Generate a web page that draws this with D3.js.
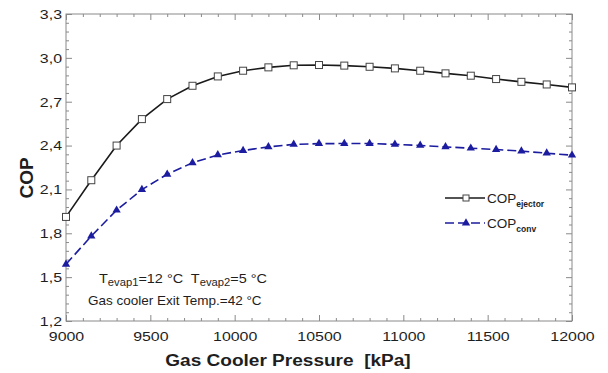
<!DOCTYPE html>
<html>
<head>
<meta charset="utf-8">
<script src="https://cdn.jsdelivr.net/npm/d3@7"></script>
<style>
  body { margin: 0; background: #fff; }
  svg { display: block; }
  text { font-family: "Liberation Sans", Arial, sans-serif; fill: #1e1e1e; }
</style>
</head>
<body>
<svg id="chart" width="608" height="373"></svg>
<script>
// Gas cooler pressure [kPa] and the two COP curves
const pressure = [9000, 9150, 9300, 9450, 9600, 9750, 9900, 10050, 10200, 10350, 10500,
                  10650, 10800, 10950, 11100, 11250, 11400, 11550, 11700, 11850, 12000];
const copEjector = [1.912, 2.163, 2.400, 2.581, 2.718, 2.809, 2.873, 2.912, 2.935, 2.949, 2.951,
                    2.947, 2.939, 2.928, 2.912, 2.894, 2.878, 2.855, 2.836, 2.818, 2.798];
const copConv = [1.588, 1.781, 1.958, 2.099, 2.204, 2.282, 2.336, 2.366, 2.391, 2.408, 2.413,
                 2.414, 2.414, 2.408, 2.401, 2.391, 2.382, 2.373, 2.362, 2.348, 2.334];

const xTicks = [9000, 9500, 10000, 10500, 11000, 11500, 12000];
const yTicks = [1.2, 1.5, 1.8, 2.1, 2.4, 2.7, 3.0, 3.3];
const seriesLabels = ["ejector", "conv"];

const svg = d3.select("#chart");
const plot = { left: 66, right: 572, top: 14, bottom: 321 };

const x = d3.scaleLinear().domain([9000, 12000]).range([plot.left, plot.right]);
const y = d3.scaleLinear().domain([1.2, 3.3]).range([plot.bottom, plot.top]);

const stretch = 1.18;      // tick labels and x title are drawn slightly wide
const frameColor = "#8a8a8a";

// minor tick positions: every 100 kPa and every 0.06 COP
const xMinor = d3.range(9000, 12001, 100).filter(v => v % 500 !== 0);
const yMinor = d3.range(0, 36).map(i => +(1.2 + i * 0.06).toFixed(2))
  .filter(v => Math.abs(v / 0.3 - Math.round(v / 0.3)) > 1e-6);

function styleAxis(g) {
  g.select(".domain").remove();
  g.selectAll("line").attr("stroke", frameColor).attr("stroke-width", 1);
}

// bottom axis with labels
svg.append("g")
  .attr("transform", `translate(0,${plot.bottom})`)
  .call(d3.axisBottom(x).tickValues(xTicks).tickSizeInner(-6).tickSizeOuter(0).tickPadding(10)
    .tickFormat(d3.format("d")))
  .call(styleAxis)
  .call(g => g.selectAll("text")
    .attr("font-size", 13.5).attr("fill", "#1e1e1e")
    .attr("font-family", "Liberation Sans, Arial, sans-serif")
    .attr("transform", `scale(${stretch},1)`));

svg.append("g")
  .attr("transform", `translate(0,${plot.bottom})`)
  .call(d3.axisBottom(x).tickValues(xMinor).tickSize(-3).tickFormat(""))
  .call(styleAxis);

// top mirror axis
svg.append("g")
  .attr("transform", `translate(0,${plot.top})`)
  .call(d3.axisTop(x).tickValues(xTicks).tickSize(-6).tickFormat(""))
  .call(styleAxis);
svg.append("g")
  .attr("transform", `translate(0,${plot.top})`)
  .call(d3.axisTop(x).tickValues(xMinor).tickSize(-3).tickFormat(""))
  .call(styleAxis);

// left axis with labels (decimal comma)
const commaFmt = v => d3.format(".1f")(v).replace(".", ",");
svg.append("g")
  .attr("transform", `translate(${plot.left},0)`)
  .call(d3.axisLeft(y).tickValues(yTicks).tickSizeInner(-6).tickSizeOuter(0).tickPadding(0)
    .tickFormat(commaFmt))
  .call(styleAxis)
  .call(g => g.selectAll("text")
    .attr("font-size", 13.5).attr("fill", "#1e1e1e")
    .attr("font-family", "Liberation Sans, Arial, sans-serif")
    .attr("x", -4 / stretch)
    .attr("transform", `scale(${stretch},1)`));
svg.append("g")
  .attr("transform", `translate(${plot.left},0)`)
  .call(d3.axisLeft(y).tickValues(yMinor).tickSize(-3).tickFormat(""))
  .call(styleAxis);

// right mirror axis
svg.append("g")
  .attr("transform", `translate(${plot.right},0)`)
  .call(d3.axisRight(y).tickValues(yTicks).tickSize(-6).tickFormat(""))
  .call(styleAxis);
svg.append("g")
  .attr("transform", `translate(${plot.right},0)`)
  .call(d3.axisRight(y).tickValues(yMinor).tickSize(-3).tickFormat(""))
  .call(styleAxis);

// plot frame
svg.append("rect")
  .attr("x", plot.left).attr("y", plot.top)
  .attr("width", plot.right - plot.left).attr("height", plot.bottom - plot.top)
  .attr("fill", "none").attr("stroke", frameColor).attr("stroke-width", 1);

// curves
const ejectorData = pressure.map((p, i) => ({ p, v: copEjector[i] }));
const convData = pressure.map((p, i) => ({ p, v: copConv[i] }));
const line = d3.line().x(d => x(d.p)).y(d => y(d.v));

const ejColor = "#1a1a1a";
const convColor = "#1c1ca0";

svg.append("path").datum(ejectorData)
  .attr("d", line).attr("fill", "none")
  .attr("stroke", ejColor).attr("stroke-width", 1.6);

svg.append("path").datum(convData)
  .attr("d", line).attr("fill", "none")
  .attr("stroke", convColor).attr("stroke-width", 1.6)
  .attr("stroke-dasharray", "9,4");

const sq = 7;
svg.append("g").selectAll("rect").data(ejectorData).join("rect")
  .attr("x", d => x(d.p) - sq / 2).attr("y", d => y(d.v) - sq / 2)
  .attr("width", sq).attr("height", sq)
  .attr("fill", "#fff").attr("stroke", "#444").attr("stroke-width", 1);

const tri = d3.symbol().type(d3.symbolTriangle).size(30);
svg.append("g").selectAll("path").data(convData).join("path")
  .attr("d", tri)
  .attr("transform", d => `translate(${x(d.p)},${y(d.v)})`)
  .attr("fill", convColor);

// legend
const legend = svg.append("g");
const legendRows = [
  { y: 198, color: ejColor, dash: null, marker: "square", sub: seriesLabels[0] },
  { y: 223, color: convColor, dash: "9,4", marker: "triangle", sub: seriesLabels[1] }
];
legendRows.forEach(r => {
  legend.append("line")
    .attr("x1", 445).attr("x2", 485).attr("y1", r.y).attr("y2", r.y)
    .attr("stroke", r.color).attr("stroke-width", 1.6)
    .attr("stroke-dasharray", r.dash);
  if (r.marker === "square") {
    legend.append("rect")
      .attr("x", 466 - 3).attr("y", r.y - 3).attr("width", 6).attr("height", 6)
      .attr("fill", "#fff").attr("stroke", "#444");
  } else {
    legend.append("path").attr("d", tri)
      .attr("transform", `translate(466,${r.y})`).attr("fill", r.color);
  }
  const t = legend.append("text")
    .attr("x", 487).attr("y", r.y + 5)
    .attr("font-size", 13.5);
  t.append("tspan").text("COP");
  t.append("tspan").attr("dy", 4).attr("font-size", 8.5).attr("font-weight", "bold").text(r.sub);
});

// operating conditions note
const note1 = svg.append("g")
  .attr("transform", "translate(99,283) scale(1.07,1)")
  .append("text")
  .attr("font-size", 13.5)
  .style("white-space", "pre");
note1.append("tspan").text("T");
note1.append("tspan").attr("dy", 3).attr("font-size", 10.5).text("evap1");
note1.append("tspan").attr("dy", -3).text("=12 °C  T");
note1.append("tspan").attr("dy", 3).attr("font-size", 10.5).text("evap2");
note1.append("tspan").attr("dy", -3).text("=5 °C");

svg.append("text")
  .attr("x", 88).attr("y", 305).attr("font-size", 13.5)
  .text("Gas cooler Exit Temp.=42 °C");

// axis titles
svg.append("g")
  .attr("transform", `translate(288,366) scale(1.19,1)`)
  .append("text")
  .attr("text-anchor", "middle").attr("font-size", 16).attr("font-weight", "bold")
  .style("white-space", "pre")
  .text("Gas Cooler Pressure  [kPa]");

svg.append("text")
  .attr("transform", "translate(33,178) rotate(-90)")
  .attr("text-anchor", "middle").attr("font-size", 19).attr("font-weight", "bold")
  .text("COP");
</script>
</body>
</html>
